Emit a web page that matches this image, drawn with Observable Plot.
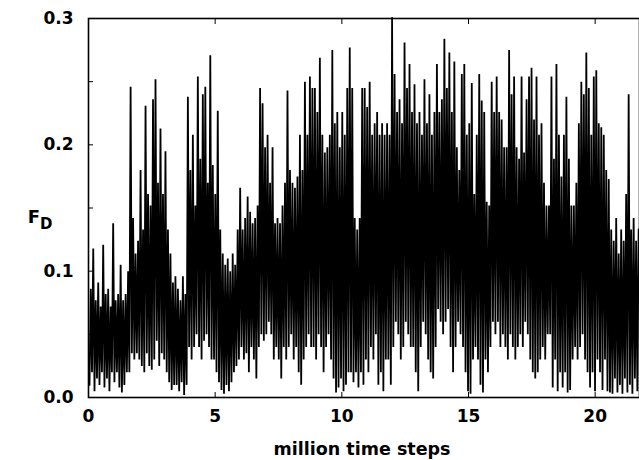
<!DOCTYPE html>
<html><head><meta charset="utf-8">
<script src="https://cdn.jsdelivr.net/npm/d3@7"></script>
<script src="https://cdn.jsdelivr.net/npm/@observablehq/plot@0.6"></script>
<style>body{margin:0;background:#fff}#chart{width:639px;height:460px}</style>
</head><body><div id="chart"></div>
<script>
// time grid of the samples (million time steps)
const t0 = 0.04, dt = 0.0983;
// upper envelope of F_D per sample bin
const hiValues = [
0.086,0.118,0.077,0.091,0.072,0.121,0.082,0.086,0.072,0.138,
0.077,0.082,0.105,0.077,0.082,0.100,0.246,0.142,0.114,0.124,
0.180,0.133,0.231,0.161,0.152,0.236,0.252,0.170,0.213,0.161,
0.195,0.133,0.114,0.091,0.096,0.086,0.077,0.096,0.082,0.238,
0.180,0.208,0.152,0.254,0.189,0.240,0.246,0.170,0.271,0.184,
0.161,0.227,0.133,0.114,0.105,0.110,0.100,0.114,0.105,0.133,
0.166,0.133,0.142,0.159,0.147,0.138,0.142,0.152,0.245,0.233,
0.198,0.208,0.170,0.198,0.138,0.142,0.138,0.152,0.170,0.243,
0.180,0.170,0.166,0.175,0.208,0.180,0.250,0.208,0.254,0.245,
0.245,0.226,0.269,0.208,0.194,0.198,0.208,0.275,0.217,0.226,
0.198,0.226,0.208,0.245,0.277,0.245,0.142,0.133,0.142,0.245,
0.245,0.230,0.250,0.208,0.217,0.226,0.208,0.217,0.208,0.217,
0.208,0.301,0.256,0.226,0.236,0.217,0.281,0.245,0.264,0.226,
0.248,0.217,0.226,0.208,0.252,0.217,0.240,0.208,0.226,0.264,
0.226,0.236,0.284,0.245,0.273,0.226,0.266,0.198,0.180,0.256,
0.264,0.208,0.217,0.249,0.161,0.208,0.256,0.235,0.226,0.155,
0.152,0.250,0.226,0.254,0.226,0.220,0.198,0.198,0.275,0.240,
0.254,0.198,0.189,0.254,0.194,0.236,0.254,0.261,0.220,0.254,
0.208,0.217,0.170,0.152,0.152,0.254,0.189,0.264,0.208,0.175,
0.208,0.238,0.189,0.152,0.152,0.170,0.217,0.250,0.240,0.273,
0.245,0.208,0.254,0.259,0.217,0.214,0.208,0.180,0.173,0.133,
0.124,0.142,0.114,0.133,0.124,0.161,0.240,0.133,0.142,0.124,0.133
];
// lower envelope of F_D per sample bin
const loValues = [
0.010,0.020,0.005,0.015,0.010,0.020,0.008,0.015,0.005,0.020,
0.012,0.020,0.008,0.004,0.010,0.020,0.020,0.035,0.030,0.035,
0.030,0.025,0.020,0.035,0.025,0.022,0.030,0.045,0.025,0.035,
0.030,0.020,0.012,0.006,0.010,0.010,0.005,0.012,0.002,0.010,
0.040,0.030,0.040,0.050,0.040,0.030,0.045,0.050,0.040,0.030,
0.030,0.020,0.012,0.006,0.003,0.010,0.005,0.012,0.020,0.025,
0.030,0.040,0.030,0.035,0.020,0.040,0.030,0.015,0.040,0.050,
0.045,0.050,0.060,0.050,0.030,0.040,0.030,0.015,0.040,0.030,
0.040,0.050,0.030,0.040,0.020,0.010,0.030,0.040,0.050,0.040,
0.040,0.030,0.050,0.040,0.020,0.040,0.050,0.030,0.015,0.004,
0.008,0.015,0.005,0.010,0.020,0.020,0.012,0.020,0.008,0.020,
0.010,0.030,0.020,0.040,0.030,0.050,0.010,0.020,0.005,0.030,
0.030,0.010,0.040,0.060,0.050,0.030,0.040,0.060,0.050,0.040,
0.040,0.020,0.005,0.040,0.060,0.050,0.030,0.020,0.015,0.040,
0.070,0.060,0.050,0.060,0.070,0.040,0.020,0.040,0.060,0.050,
0.040,0.020,0.005,0.003,0.030,0.040,0.030,0.010,0.004,0.030,
0.020,0.040,0.060,0.050,0.060,0.040,0.050,0.040,0.030,0.050,
0.040,0.030,0.040,0.050,0.040,0.060,0.050,0.030,0.020,0.015,
0.020,0.030,0.040,0.030,0.050,0.050,0.008,0.030,0.005,0.020,
0.008,0.020,0.004,0.006,0.030,0.040,0.030,0.040,0.050,0.030,
0.020,0.008,0.020,0.005,0.030,0.020,0.006,0.030,0.005,0.004,
0.003,0.015,0.004,0.010,0.003,0.015,0.004,0.010,0.003,0.015,0.005
];
const yTickLabels = [0, 0.1, 0.2, 0.3];
const yTickMarks = [0, 0.05, 0.1, 0.15, 0.2, 0.25, 0.3];
const xTickLabels = [0, 5, 10, 15, 20];
const xTitle = "million time steps";
const yTitle = "F", ySub = "D";

const series = [];
hiValues.forEach((h, i) => {
  series.push({t: t0 + i * dt, v: loValues[i]});
  series.push({t: t0 + i * dt + dt / 2, v: h});
});

const chart = Plot.plot({
  width: 639, height: 460,
  marginLeft: 88, marginRight: 0, marginTop: 18, marginBottom: 63,
  x: {domain: [0, 21.75]},
  y: {domain: [0, 0.3]},
  style: {fontFamily: "DejaVu Sans", fontWeight: "bold", fontSize: "17px", color: "black", background: "white"},
  marks: [
    Plot.line(series, {x: "t", y: "v", stroke: "black", strokeWidth: 1.8, strokeLinejoin: "miter", strokeMiterlimit: 1}),
    Plot.frame({stroke: "black", strokeWidth: 1.6}),
    Plot.axisY(yTickMarks, {tickSize: -5, tickFormat: () => "", label: null}),
    Plot.axisY(yTickLabels, {tickSize: 0, tickPadding: 15, tickFormat: d3.format(".1f"), label: null, fontSize: 17}),
    Plot.axisX(xTickLabels, {tickSize: -5, tickFormat: () => "", label: null}),
    Plot.axisX(xTickLabels, {tickSize: 0, tickPadding: 12, label: null, fontSize: 17}),
    Plot.axisX(xTickLabels, {anchor: "top", tickSize: -5, tickFormat: () => "", label: null})
  ]
});
document.getElementById("chart").appendChild(chart);
const svg = d3.select(chart);
svg.append("text").attr("x", 362).attr("y", 455).attr("text-anchor", "middle")
  .attr("font-family", "DejaVu Sans").attr("font-weight", "bold").attr("font-size", 17.5).text(xTitle);
const yt = svg.append("text").attr("x", 40).attr("y", 223)
  .attr("font-family", "DejaVu Sans").attr("font-weight", "bold").attr("font-size", 18);
yt.append("tspan").text(yTitle);
yt.append("tspan").attr("dy", 6).attr("font-size", 15).text(ySub);
</script></body></html>
